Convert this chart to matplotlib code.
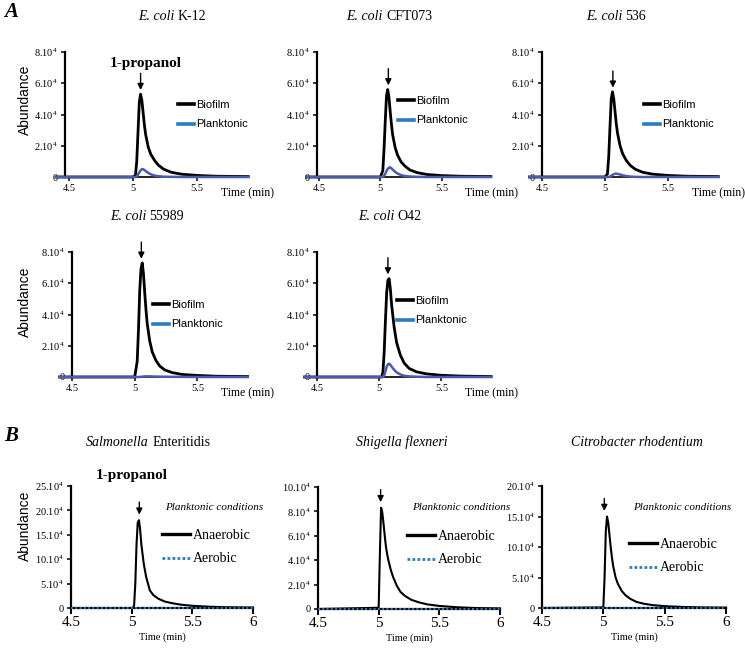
import numpy as np
import matplotlib
matplotlib.use("Agg")
import matplotlib.pyplot as plt
from matplotlib.lines import Line2D
from matplotlib.offsetbox import TextArea, HPacker, AnchoredOffsetbox

plt.rcParams['font.family'] = ['Liberation Serif', 'DejaVu Serif']
plt.rcParams['mathtext.fontset'] = 'custom'
plt.rcParams['mathtext.rm'] = 'Liberation Serif'
plt.rcParams['mathtext.it'] = 'Liberation Serif:italic'
plt.rcParams['mathtext.bf'] = 'Liberation Serif:bold'

W, H = 745, 650

# ---- data (abundance in units of 10^4) ----
# panel A: biofilm vs planktonic, common time grid (min)
t_a = [4.40, 5.00, 5.02, 5.03, 5.04, 5.05, 5.06, 5.07, 5.08, 5.09, 5.10,
       5.12, 5.14, 5.17, 5.20, 5.24, 5.30, 5.38, 5.50, 5.65, 5.90]

strains_a = ['K-12', 'CFT073', '536', '55989', 'O42']

biofilm_k12 = [0, 0, 0.1, 1.0, 2.9, 4.8, 5.3, 4.9, 4.1, 3.3, 2.7, 1.9, 1.45, 1.05, 0.75, 0.5, 0.3, 0.18, 0.1, 0.05, 0.03]
biofilm_cft073 = [0, 0, 0.4, 1.8, 3.6, 5.2, 5.6, 5.1, 4.2, 3.4, 2.7, 1.9, 1.4, 0.95, 0.7, 0.45, 0.28, 0.16, 0.09, 0.05, 0.03]
biofilm_536 = [0, 0, 0.2, 1.3, 3.2, 5.0, 5.45, 5.0, 4.2, 3.4, 2.8, 2.0, 1.5, 1.05, 0.75, 0.5, 0.3, 0.18, 0.1, 0.05, 0.03]
biofilm_55989 = [0, 0, 1.0, 3.0, 5.5, 6.9, 7.3, 6.6, 5.4, 4.3, 3.4, 2.3, 1.6, 1.05, 0.7, 0.45, 0.28, 0.16, 0.1, 0.05, 0.03]
biofilm_o42 = [0, 0, 0, 0.3, 1.6, 3.6, 5.4, 6.2, 6.3, 5.6, 4.6, 3.2, 2.2, 1.4, 0.9, 0.55, 0.33, 0.2, 0.11, 0.06, 0.03]

plank_k12 = [0, 0, 0, 0.05, 0.15, 0.3, 0.42, 0.5, 0.5, 0.45, 0.38, 0.26, 0.17, 0.09, 0.05, 0.02, 0.01, 0, 0, 0, 0]
plank_cft073 = [0, 0, 0, 0.08, 0.2, 0.38, 0.52, 0.6, 0.62, 0.56, 0.48, 0.33, 0.22, 0.12, 0.06, 0.03, 0.01, 0, 0, 0, 0]
plank_536 = [0, 0, 0, 0, 0.03, 0.08, 0.13, 0.18, 0.21, 0.22, 0.2, 0.16, 0.11, 0.06, 0.03, 0.01, 0, 0, 0, 0, 0]
plank_55989 = [0, 0, 0, 0, 0, 0.01, 0.02, 0.03, 0.04, 0.04, 0.04, 0.04, 0.03, 0.03, 0.02, 0.02, 0.01, 0.01, 0, 0, 0]
plank_o42 = [0, 0, 0, 0, 0.1, 0.35, 0.65, 0.82, 0.85, 0.78, 0.66, 0.46, 0.3, 0.16, 0.08, 0.04, 0.02, 0, 0, 0, 0]

yticks_a = [0, 2, 4, 6, 8]

# panel B: anaerobic vs aerobic (planktonic)
t_b = [4.5, 5.00, 5.01, 5.02, 5.03, 5.04, 5.05, 5.06, 5.07, 5.08, 5.10,
       5.12, 5.15, 5.18, 5.22, 5.27, 5.33, 5.40, 5.50, 5.65, 5.80, 6.0]
anaer_salm = [0, 0, 0, 0.5, 5, 13, 17.5, 18, 16, 13, 9, 6.3, 3.6, 2.6, 1.9, 1.35, 1.0, 0.7, 0.45, 0.25, 0.15, 0.1]
anaer_shig = [0, 0.1, 4.5, 8.3, 7.9, 7.0, 6.0, 5.1, 4.5, 4.0, 3.2, 2.6, 1.9, 1.4, 1.05, 0.75, 0.55, 0.38, 0.25, 0.14, 0.08, 0.05]
anaer_citro = [0, 0.1, 5, 12.5, 15.0, 14.0, 12.0, 10.0, 8.3, 6.9, 5.0, 3.9, 2.8, 2.1, 1.5, 1.0, 0.7, 0.48, 0.3, 0.17, 0.1, 0.06]
t_aer = [4.5, 6.0]
aer_vals = [0, 0]
yticks_salm = [0, 5, 10, 15, 20, 25]
yticks_shig = [0, 2, 4, 6, 8, 10]
yticks_citro = [0, 5, 10, 15, 20]
xticks_b = [4.5, 5, 5.5, 6]

# ---- layout (pixel boxes: left, top, right, bottom) ----
def box(l, t, r, b):
    return [l / W, 1 - b / H, (r - l) / W, (b - t) / H]

def fx(x):
    return x / W

def fy(y):
    return 1 - y / H

BLUE_LINE = '#4a5cae'
BLUE_KEY = '#2b7cc0'

fig = plt.figure(figsize=(W / 100, H / 100), dpi=100)


def style_axes(ax, lw_left=1.6, lw_bottom=1.2):
    for s in ['top', 'right']:
        ax.spines[s].set_visible(False)
    ax.spines['left'].set_linewidth(lw_left)
    ax.spines['bottom'].set_linewidth(lw_bottom)
    ax.tick_params(direction='out', length=3, width=1.1, pad=2)


def sup_labels(vals):
    return ['0' if v == 0 else '%d.10$^4$' % v for v in vals]


def title(italic, plain, pos):
    # italic genus/species part followed by upright strain part
    parts = [TextArea(italic, textprops=dict(fontsize=10, style='italic'))]
    if plain:
        parts.append(TextArea(plain, textprops=dict(fontsize=10)))
    pack = HPacker(children=parts, align='baseline', pad=0, sep=2.5)
    anc = AnchoredOffsetbox(loc='center', child=pack, frameon=False, pad=0,
                            borderpad=0, bbox_to_anchor=(fx(pos[0]), fy(pos[1])),
                            bbox_transform=fig.transFigure)
    fig.add_artist(anc)


panels_a = [
    # strain, biofilm, planktonic, box, xlim, arrow time, legend corner, title pos
    ('K-12', biofilm_k12, plank_k12, (65, 52, 245, 177), (4.47, 5.875), 5.06, (178, 100), (172, 17)),
    ('CFT073', biofilm_cft073, plank_cft073, (317, 52, 470, 177), (4.484, 5.73), 5.065, (398, 96), (389, 17)),
    ('536', biofilm_536, plank_536, (542, 52, 717, 177), (4.5, 5.89), 5.063, (644, 100), (616, 17)),
    ('55989', biofilm_55989, plank_55989, (72, 252, 230, 377), (4.5, 5.76), 5.053, (153, 300), (147, 216)),
    ('O42', biofilm_o42, plank_o42, (317, 252, 475, 377), (4.5, 5.77), 5.07, (397, 296), (390, 216)),
]

for name, bio, plank, bx, xl, t_arrow, leg, tpos in panels_a:
    ax = fig.add_axes(box(*bx))
    ax.plot(t_a, bio, color='black', lw=2.0, clip_on=False, zorder=3)
    ax.plot(t_a, plank, color=BLUE_LINE, lw=1.8, clip_on=False, zorder=4)
    ax.set_xlim(*xl)
    ax.set_ylim(0, 8)
    ax.set_xticks([4.5, 5, 5.5])
    ax.set_xticklabels(['4.5', '5', '5.5'], fontsize=7.5)
    ax.set_yticks(yticks_a)
    ax.set_yticklabels(sup_labels(yticks_a), fontsize=7.5)
    style_axes(ax)
    ax.annotate('Time (min)', xy=(5.5, 0), xycoords=('data', 'axes fraction'),
                xytext=(17, -11.5), textcoords='offset points',
                ha='left', va='center', fontsize=8.5, annotation_clip=False)
    # arrow pointing at the 1-propanol peak
    peak = max(bio)
    ax.annotate('', xy=(t_arrow, peak), xycoords='data',
                xytext=(0, 15), textcoords='offset points',
                arrowprops=dict(arrowstyle='-|>', color='black', lw=1.0,
                                mutation_scale=9, shrinkA=0, shrinkB=3),
                annotation_clip=False)
    handles = [Line2D([], [], color='black', lw=2.6),
               Line2D([], [], color=BLUE_KEY, lw=2.6)]
    ax.legend(handles, ['Biofilm', 'Planktonic'], loc='upper left',
              bbox_to_anchor=(fx(leg[0]), fy(leg[1])), bbox_transform=fig.transFigure,
              frameon=False, borderpad=0, borderaxespad=0, handlelength=1.4,
              handletextpad=0.2, labelspacing=0.85,
              prop={'family': 'Liberation Sans', 'size': 8})
    title('E. coli', name, tpos)

fig.text(fx(146), fy(63), '1-propanol', ha='center', va='center',
         fontsize=11, fontweight='bold')

panels_b = [
    (anaer_salm, yticks_salm, (71, 486, 253, 608), 5.063, (162, 529), (165, 507),
     ('Salmonella', 'Enteritidis'), (148, 442)),
    (anaer_shig, yticks_shig, (318, 487, 500, 609), 5.016, (407, 530), (412, 507),
     ('Shigella flexneri', ''), (402, 442)),
    (anaer_citro, yticks_citro, (542, 486, 726, 608), 5.008, (629, 538), (633, 507),
     ('Citrobacter rhodentium', ''), (637, 442)),
]

for anaer, yt, bx, t_arrow, leg, cond, ttl, tpos in panels_b:
    ax = fig.add_axes(box(*bx))
    ax.plot(t_b, anaer, color='black', lw=1.5, clip_on=False, zorder=3)
    ax.plot(t_aer, aer_vals, color=BLUE_KEY, lw=1.4, ls=(0, (1, 1.2)),
            clip_on=False, zorder=4)
    ax.set_xlim(4.5, 6.0)
    ax.set_ylim(0, yt[-1])
    ax.set_xticks(xticks_b)
    ax.set_xticklabels(['4.5', '5', '5.5', '6'], fontsize=11)
    ax.set_yticks(yt)
    ax.set_yticklabels(sup_labels(yt), fontsize=7.5)
    style_axes(ax, 1.6, 1.6)
    ax.tick_params(axis='x', length=4, width=1.4)
    ax.set_xlabel('Time (min)', fontsize=7.5, labelpad=2)
    peak = max(anaer)
    ax.annotate('', xy=(t_arrow, peak), xycoords='data',
                xytext=(0, 13), textcoords='offset points',
                arrowprops=dict(arrowstyle='-|>', color='black', lw=1.0,
                                mutation_scale=9, shrinkA=0, shrinkB=4),
                annotation_clip=False)
    handles = [Line2D([], [], color='black', lw=2.4),
               Line2D([], [], color=BLUE_KEY, lw=2.0, ls=(0, (1, 0.8)))]
    ax.legend(handles, ['Anaerobic', 'Aerobic'], loc='upper left',
              bbox_to_anchor=(fx(leg[0]), fy(leg[1])), bbox_transform=fig.transFigure,
              frameon=False, borderpad=0, borderaxespad=0, handlelength=2.0,
              handletextpad=0.2, labelspacing=0.75,
              prop={'family': 'Liberation Serif', 'size': 10})
    fig.text(fx(cond[0]), fy(cond[1]), 'Planktonic conditions', ha='left',
             va='center', fontsize=8, style='italic')
    title(ttl[0], ttl[1], tpos)

fig.text(fx(132), fy(476), '1-propanol', ha='center', va='center',
         fontsize=11, fontweight='bold')

# y labels
for yc in [100, 302, 526]:
    fig.text(fx(25), fy(yc), 'Abundance', rotation=90, ha='center', va='center',
             fontsize=10, family='Liberation Sans')

# panel letters
fig.text(fx(4), fy(12), 'A', fontsize=15, fontweight='bold', style='italic',
         ha='left', va='center')
fig.text(fx(4), fy(436), 'B', fontsize=15, fontweight='bold', style='italic',
         ha='left', va='center')

fig.savefig('out.png', dpi=100)
